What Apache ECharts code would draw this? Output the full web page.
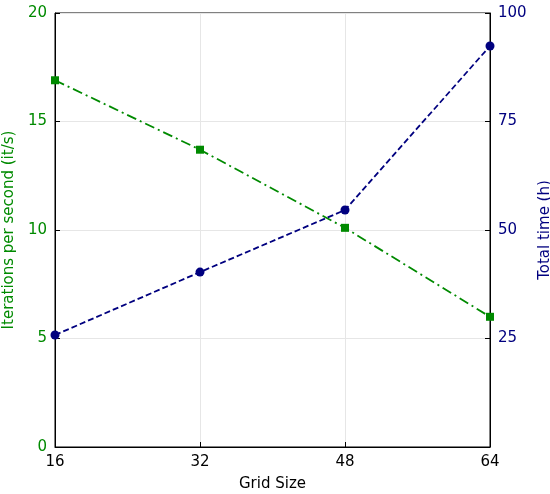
<!DOCTYPE html><html><head><meta charset="utf-8">
<script src="https://cdn.jsdelivr.net/npm/echarts@6/dist/echarts.min.js"></script>
<style>body{margin:0}#c{width:550px;height:494px}</style></head><body><div id="c"></div>
<script>
const gridSizes=[16,32,48,64];
const itersPerSec=[16.9,13.7,10.1,6.0];
const totalTime=[25.8,40.3,54.6,92.4];
const font='DejaVu Sans';
const ch=echarts.init(document.getElementById('c'));
ch.setOption({
 animation:false,
 grid:{left:55,right:60,top:13,bottom:47,containLabel:false,outerBoundsMode:'none',show:true,borderColor:'#000',borderWidth:1,backgroundColor:'transparent'},
 xAxis:[{type:'value',min:16,max:64,interval:16,name:'Grid Size',nameLocation:'middle',nameGap:30,
  nameTextStyle:{fontFamily:font,fontSize:15,color:'#000'},
  axisLine:{lineStyle:{color:'#000'}},axisTick:{inside:true,length:5,lineStyle:{color:'#000'}},
  axisLabel:{fontFamily:font,fontSize:15,color:'#000',margin:8},
  splitLine:{show:true,lineStyle:{color:'#e6e6e6'}}}],
 yAxis:[{type:'value',min:0,max:20,interval:5,name:'Iterations per second (it/s)',nameLocation:'middle',nameGap:36,
  nameTextStyle:{fontFamily:font,fontSize:15,color:'#008a00'},
  axisLine:{show:true,lineStyle:{color:'#000'}},axisTick:{show:true,inside:true,length:5,lineStyle:{color:'#000'}},
  axisLabel:{fontFamily:font,fontSize:15,color:'#008a00',margin:8},
  splitLine:{show:true,lineStyle:{color:'#e6e6e6'}}},
 {type:'value',min:0,max:100,interval:25,position:'right',name:'Total time (h)',nameLocation:'middle',nameGap:46,
  nameTextStyle:{fontFamily:font,fontSize:15,color:'#00007f'},
  axisLine:{show:true,lineStyle:{color:'#000'}},axisTick:{show:true,inside:true,length:5,lineStyle:{color:'#000'}},
  axisLabel:{fontFamily:font,fontSize:15,color:'#00007f',margin:8,formatter:v=>v===0?'':v},
  splitLine:{show:false}}],
 series:[
  {type:'line',yAxisIndex:0,data:gridSizes.map((g,i)=>[g,itersPerSec[i]]),symbol:'rect',symbolSize:8,
   itemStyle:{color:'#008a00'},lineStyle:{color:'#008a00',width:1.8,type:[10,4,2,4]},clip:false},
  {type:'line',yAxisIndex:1,data:gridSizes.map((g,i)=>[g,totalTime[i]]),symbol:'circle',symbolSize:9,
   itemStyle:{color:'#00007f'},lineStyle:{color:'#00007f',width:1.8,type:[6,3]},clip:false}
 ]});
</script></body></html>
